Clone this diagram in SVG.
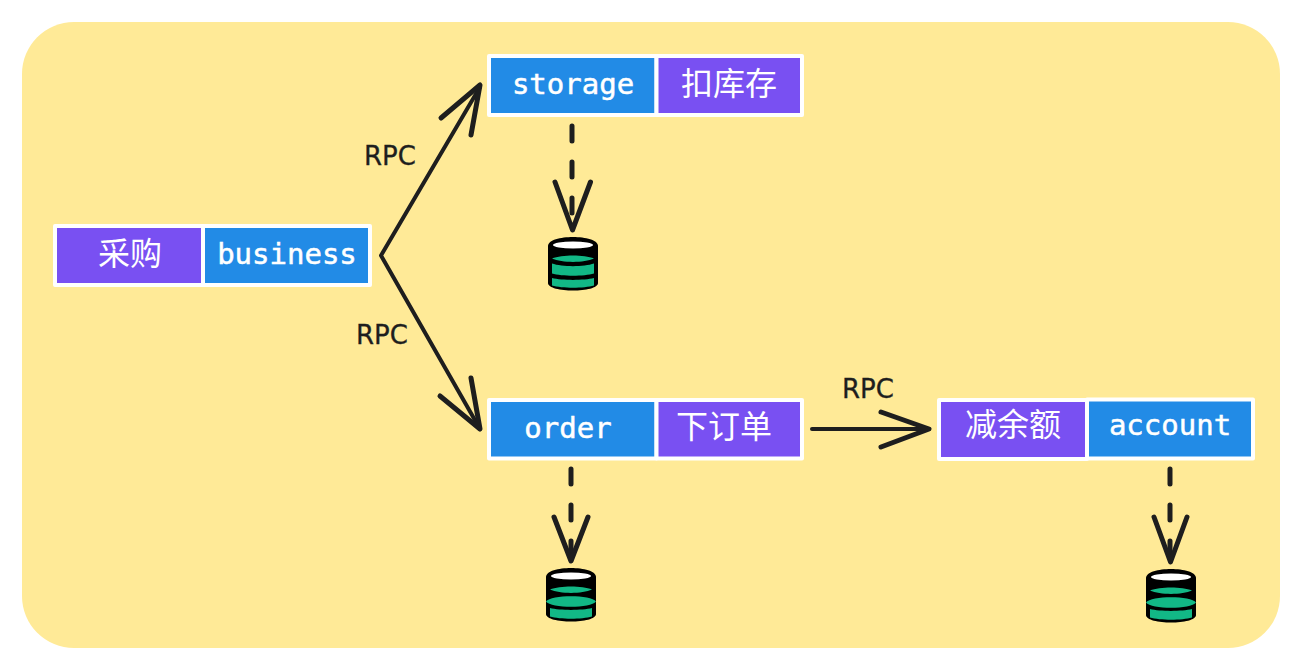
<svg xmlns="http://www.w3.org/2000/svg" width="1302" height="670" viewBox="0 0 1302 670">
<style>
.box{stroke:#fff;stroke-width:4;stroke-linejoin:round}
.blue{fill:#228be6}
.purple{fill:#7950f2}
.t{fill:#fff;stroke:#fff;stroke-width:.5;font-family:"DejaVu Sans Mono","Noto Sans CJK SC",monospace;font-size:29px;text-anchor:middle}
.z{fill:#fff;font-family:"Noto Sans CJK SC",sans-serif;font-size:32px;text-anchor:middle}
.rpc{fill:#1e1e1e;stroke:#1e1e1e;stroke-width:.3;font-family:"DejaVu Sans",sans-serif;font-size:26px;text-anchor:middle}
.c{fill:none;stroke:#1e1e1e;stroke-width:4;stroke-linecap:round;stroke-linejoin:round}
.h{stroke-width:5}
.d{stroke-width:5;stroke-dasharray:15 21}
.k{fill:#000}
.g{fill:#12b886}
</style>
<defs>
<g id="dbbase">
<path class="k" d="M0 9C0 -3 50 -3 50 9V46C50 56 0 56 0 46Z"/>
<ellipse cx="25" cy="8" rx="20" ry="3.500" fill="#fff"/>
<path class="g" d="M4 21.500C14 17.500 36 17.500 46 21.500C36 26 14 26 4 21.500Z"/>
</g>
<g id="db">
<use href="#dbbase"/>
<path class="g" d="M4 26.500C14 30 36 30 46 26.500V36.500C36 39.500 14 39.500 4 36.500Z"/>
<path class="g" d="M4 41C14 43.500 36 43.500 46 41V48.500C36 51.500 14 51.500 4 48.500Z"/>
</g>
<g id="dbw">
<use href="#dbbase"/>
<path class="g" d="M0 33.500C5 26.500 45 26.500 50 33.500C45 40.500 5 40.500 0 33.500Z"/>
<path class="g" d="M4 40C14 42.500 36 42.500 46 40V48.500C36 51.500 14 51.500 4 48.500Z"/>
</g>
</defs>
<rect width="1302" height="670" fill="#fff"/>
<rect x="22" y="22" width="1258" height="626" rx="52" fill="#ffea97"/>
<g id="connectors">
<path class="c" d="M480 87L381 255.500L480 429"/>
<path class="c h" d="M441 118L480 85L471 135"/>
<path class="c h" d="M440 396L480 429L471 378"/>
<path class="c" d="M812 429L929 429"/>
<path class="c h" d="M881 412L929 429L881 447"/>
<path class="c d" d="M572 126V215"/>
<path class="c h" d="M555 182L572.500 230L590.500 182"/>
<path class="c d" d="M571 469V558"/>
<path class="c h" d="M554 517L571 561L588 517"/>
<path class="c d" d="M1170 469V559"/>
<path class="c h" d="M1154 517L1170.500 562L1187 517"/>
</g>
<g id="labels">
<text class="rpc" x="390" y="165">RPC</text>
<text class="rpc" x="382" y="344">RPC</text>
<text class="rpc" x="868" y="398">RPC</text>
</g>
<g id="storage">
<rect class="box blue" x="489" y="56" width="167.500" height="59"/>
<rect class="box purple" x="656.500" y="56" width="145.500" height="59"/>
<text class="t" x="573" y="94">storage</text>
<text class="z" x="729" y="95">扣库存</text>
</g>
<g id="business">
<rect class="box purple" x="55" y="226" width="148" height="59"/>
<rect class="box blue" x="203" y="226" width="167" height="59"/>
<text class="z" x="130" y="265">采购</text>
<text class="t" x="287" y="264">business</text>
</g>
<g id="order">
<rect class="box blue" x="489" y="400" width="167.500" height="58.500"/>
<rect class="box purple" x="656.500" y="400" width="145.500" height="58.500"/>
<text class="t" x="568" y="438">order</text>
<text class="z" x="724" y="438">下订单</text>
</g>
<g id="account">
<rect class="box purple" x="939" y="400" width="148" height="59"/>
<rect class="box blue" x="1087" y="399.500" width="166" height="59"/>
<text class="z" x="1013" y="436">减余额</text>
<text class="t" x="1170" y="435">account</text>
</g>
<g id="db1"><use href="#db" x="548" y="237"/></g>
<g id="db2"><use href="#dbw" x="546" y="568"/></g>
<g id="db3"><use href="#dbw" x="1146" y="569"/></g>
</svg>
